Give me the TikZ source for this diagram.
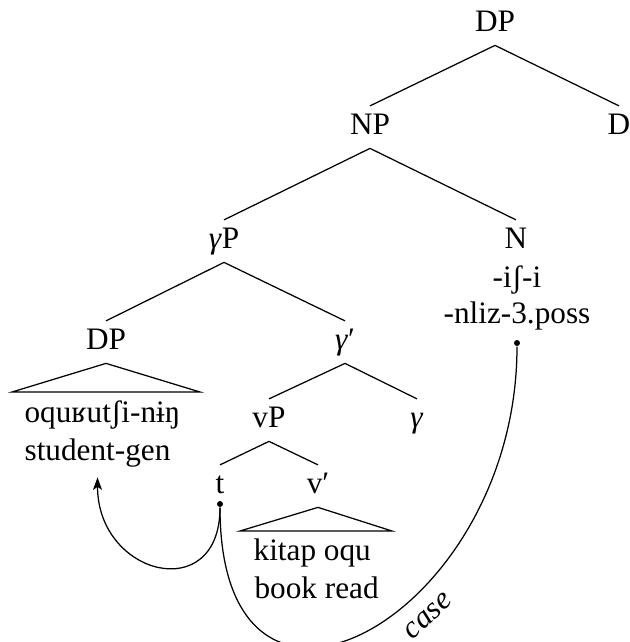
\documentclass[tikz,border=0pt]{standalone}
\usepackage{fontspec}
\setmainfont{Liberation Serif}
\usetikzlibrary{arrows.meta}
\begin{document}
\fontsize{12.5}{15}\selectfont
\begin{tikzpicture}[
  x=0.4pt, y=-0.4pt, line width=0.5pt,
  cat/.style={anchor=base, text height=8.3pt, text depth=2.8pt, inner sep=2.7pt},
  gloss/.style={anchor=base, inner xsep=0pt, inner ysep=4pt},
  leftgloss/.style={gloss, anchor=base west},
  dot/.style={circle, fill, inner sep=0pt, minimum size=2.4pt},
  move/.style={-{Stealth[length=5pt,width=3.6pt,inset=1.2pt]}}
  ]
	\useasboundingbox (0,0) rectangle (630,642);

	\node[cat] (dp) at (495,31) {DP};
	\node[cat] (np) at (370,134) {NP};
	\node[cat] (d) at (619,134) {D};

	\node[cat] (gp) at (224,248) {\textit{γ}P};
	\node[cat] (n) at (516,248) {N};
	\node[gloss] (nA) at (517,287) {-iʃ-i};
	\node[gloss] (nB) at (517,323) {-nliz-3.poss};

	\node[cat] (dps) at (106,349) {DP};
	\node[cat] (gbar) at (345,349) {\textit{γ}′};
	\node[leftgloss] (dpA) at (24,422) {oquʁutʃi-nɨŋ};
	\node[leftgloss] (dpB) at (24,460) {student-gen};

	\node[cat] (vp) at (269,427) {vP};
	\node[cat] (g) at (417,427) {\textit{γ}};

	\node[cat] (t) at (220,493) {t};
	\node[cat] (vbar) at (318,493) {v′};
	\node[leftgloss] (vA) at (253,560) {kitap oqu};
	\node[leftgloss] (vB) at (254,598) {book read};

	\coordinate (dpL) at (12,392);
	\coordinate (dpR) at (200,392);
	\coordinate (vL) at (240,531);
	\coordinate (vR) at (392,531);

	\node[dot] (tdot) at (220,504) {};
	\node[dot] (possdot) at (517,343) {};

	\draw (dp.south) -- (np.north);
	\draw (dp.south) -- (d.north);
	\draw (np.south) -- (gp.north);
	\draw (np.south) -- (n.north);
	\draw (gp.south) -- (dps.north);
	\draw (gp.south) -- (gbar.north);
	\draw (gbar.south) -- (vp.north);
	\draw (gbar.south) -- (g.north);
	\draw (vp.south) -- (t.north);
	\draw (vp.south) -- (vbar.north);

	\draw (dps.south) -- (dpL) -- (dpR) -- cycle;
	\draw (vbar.south) -- (vL) -- (vR) -- cycle;

	\draw[move] (tdot) to[out=-90,in=-90,looseness=2] (dpB.south);
	\draw (tdot) to[out=-90,in=-90,looseness=2.05] node[pos=0.6,sloped,below=2pt,font=\itshape] {case} (possdot);
\end{tikzpicture}
\end{document}
